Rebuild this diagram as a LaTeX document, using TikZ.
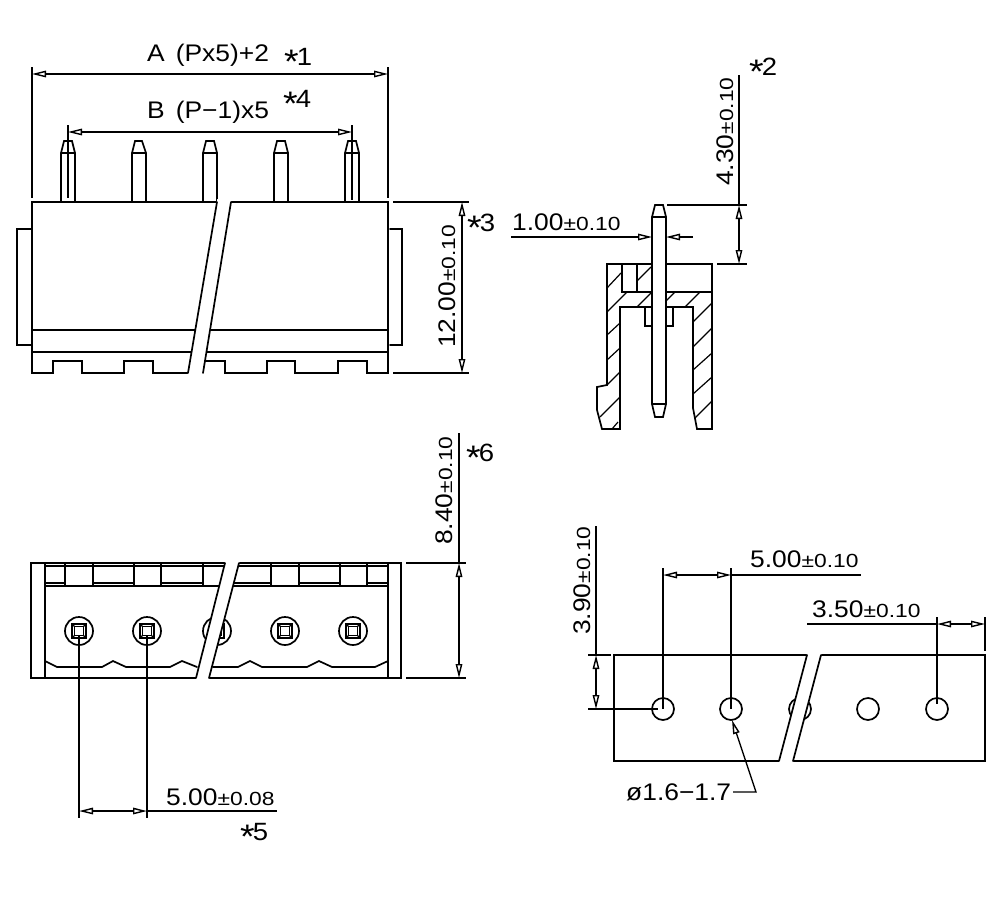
\documentclass[tikz,border=0pt]{standalone}
\usepackage{fontspec}
\setmainfont[FakeStretch=1.1]{Liberation Sans}
\newfontfamily\tolfont[FakeStretch=1.2]{Liberation Sans}
\usetikzlibrary{arrows.meta}

\newcommand{\tol}[1]{{\tolfont\fontsize{19}{19}\selectfont ±#1}}
\newcommand{\cadstar}{{\fontsize{34}{34}\selectfont\raisebox{-8pt}{*}}\hspace{-2pt}}

\tikzset{
  part/.style={line width=1.7pt, line cap=round, line join=miter},
  thin part/.style={line width=1.2pt},
  dimtip/.tip={Triangle[open,length=14pt,width=6.5pt]},
  dimline/.style={line width=1.4pt, -dimtip},
  dimboth/.style={line width=1.4pt, dimtip-dimtip},
  extline/.style={line width=1.4pt},
  dimtext/.style={font=\fontsize{24}{26}\selectfont, inner sep=0pt, anchor=base west},
  note/.style={font=\fontsize{25}{27}\selectfont, inner sep=0pt, anchor=base west},
  gap/.style={fill=white, draw=none}
}

\begin{document}
\begin{tikzpicture}[x=1pt,y=-1pt]
\useasboundingbox (0,0) rectangle (1000,900);

% front view
\draw[part] (61,202) -- (61,153) -- (64,141) -- (72,141) -- (75,153) -- (75,202);
\draw[part] (61,153) -- (75,153);
\draw[part] (132,202) -- (132,153) -- (135,141) -- (142,141) -- (146,153) -- (146,202);
\draw[part] (132,153) -- (146,153);
\draw[part] (203,202) -- (203,153) -- (206,141) -- (214,141) -- (217,153) -- (217,202);
\draw[part] (203,153) -- (217,153);
\draw[part] (274,202) -- (274,153) -- (277,141) -- (285,141) -- (288,153) -- (288,202);
\draw[part] (274,153) -- (288,153);
\draw[part] (345,202) -- (345,153) -- (348,141) -- (356,141) -- (359,153) -- (359,202);
\draw[part] (345,153) -- (359,153);

\draw[part] (188,373) -- (153,373) -- (153,361) -- (124,361) -- (124,373) -- (82,373) -- (82,361) -- (53,361) -- (53,373) -- (32,373) -- (32,202) -- (388,202) -- (388,373) -- (367,373) -- (367,361) -- (338,361) -- (338,373) -- (295,373) -- (295,361) -- (267,361) -- (267,373) -- (225,373) -- (225,361) -- (205,361);
\draw[part] (32,330) -- (388,330);
\draw[part] (32,352) -- (388,352);
\draw[part] (32,229) -- (17,229) -- (17,345) -- (32,345);
\draw[part] (390,229) -- (402,229) -- (402,345) -- (390,345);
\fill[gap] (217.3,199) -- (231.5,199) -- (202.5,376) -- (187.5,376) -- cycle;
\draw[part] (217,202) -- (188,373);
\draw[part] (231,202) -- (203,373);

\draw[extline] (32,67) -- (32,198);
\draw[extline] (388,67) -- (388,198);
\draw[dimboth] (32,74) -- (388,74);
\draw[extline] (68,125) -- (68,198);
\draw[extline] (352,125) -- (352,200);
\draw[dimboth] (68,132) -- (352,132);
\draw[extline] (393,202) -- (469,202);
\draw[extline] (393,373) -- (469,373);
\draw[dimboth] (462,202) -- (462,373);

\node[dimtext] (lblA) at (147,61) {A\hspace{11pt}(Px5)+2};
\node[note] (starA) at (284,65) {\cadstar 1};
\node[dimtext] (lblB) at (147,118) {B\hspace{11pt}(P−1)x5};
\node[note] (starB) at (283,107) {\cadstar 4};
\node[note] (starH) at (467,231) {\cadstar 3};
\node[dimtext, rotate=90] (lblH) at (455,348) {12.00\tol{0.10}};

% side section
\draw[part] (652,404) -- (652,217) -- (655,205) -- (663,205) -- (666,217) -- (666,404) -- (663,417) -- (655,417) -- (652,404);
\draw[part] (652,217) -- (666,217);
\draw[part] (652,404) -- (666,404);
\draw[part] (652,264) -- (607,264) -- (607,385) -- (597,387) -- (597,410) -- (602,429) -- (620,429) -- (620,307) -- (652,307);
\draw[part] (666,264) -- (712,264) -- (712,429) -- (697,429) -- (693,408) -- (693,307) -- (666,307);
\draw[part] (622,264) -- (622,292) -- (652,292);
\draw[part] (666,292) -- (712,292);
\draw[part] (637,264) -- (637,292);
\draw[part] (645,307) -- (645,326) -- (652,326);
\draw[part] (673,307) -- (673,326) -- (666,326);

\draw[thin part] (607,288) -- (621,273);
\draw[thin part] (607,312) -- (627,292);
\draw[thin part] (637,281) -- (651,267);
\draw[thin part] (637,307) -- (651,293);
\draw[thin part] (607,335) -- (620,323);
\draw[thin part] (607,360) -- (620,348);
\draw[thin part] (607,385) -- (620,372);
\draw[thin part] (600,417) -- (620,397);
\draw[thin part] (612,429) -- (618,422);
\draw[thin part] (666,301) -- (675,292);
\draw[thin part] (685,307) -- (700,292);
\draw[thin part] (693,322) -- (712,303);
\draw[thin part] (693,347) -- (712,328);
\draw[thin part] (693,370) -- (712,353);
\draw[thin part] (693,394) -- (712,377);
\draw[thin part] (695,418) -- (712,401);

\draw[dimline] (511,237) -- (652,237);
\draw[dimline] (693,237) -- (666,237);
\draw[extline] (667,205) -- (747,205);
\draw[extline] (717,264) -- (747,264);
\draw[extline] (739,75) -- (739,205);
\draw[dimboth] (739,205) -- (739,264);

\node[dimtext] (lblPin) at (512,230) {1.00\tol{0.10}};
\node[dimtext, rotate=90] (lblTop) at (733,186) {4.30\tol{0.10}};
\node[note] (starTop) at (749,75) {\cadstar 2};

% top view
\draw[part] (31,563) rectangle (401,678);
\draw[part] (45,563) -- (45,678);
\draw[part] (388,563) -- (388,678);
\draw[part] (45,566) -- (388,566);
\draw[thin part] (45,583) -- (388,583);
\draw[part] (45,586) -- (388,586);
\fill[white] (65,567) rectangle (93,585);
\fill[white] (134,567) rectangle (161,585);
\fill[white] (203,567) rectangle (225,585);
\fill[white] (271,567) rectangle (299,585);
\fill[white] (340,567) rectangle (367,585);
\draw[part] (65,563) -- (65,586);
\draw[part] (93,563) -- (93,586);
\draw[part] (134,563) -- (134,586);
\draw[part] (161,563) -- (161,586);
\draw[part] (203,563) -- (203,586);
\draw[part] (271,563) -- (271,586);
\draw[part] (299,563) -- (299,586);
\draw[part] (340,563) -- (340,586);
\draw[part] (367,563) -- (367,586);

\draw[part] (45,661) -- (57,667) -- (102,667) -- (113,661) -- (126,667) -- (170,667) -- (182,661) -- (197,667);
\draw[part] (213,667) -- (238,667) -- (250,661) -- (262,667) -- (307,667) -- (319,661) -- (332,667) -- (375,667) -- (388,661);

\draw[part] (79,631) circle (14);
\draw[thin part] (72,624) rectangle (86,638);
\draw[thin part] (74.5,626.5) rectangle (83.5,635.5);
\draw[thin part] (72,624) -- (74.5,626.5);
\draw[thin part] (86,624) -- (83.5,626.5);
\draw[thin part] (72,638) -- (74.5,635.5);
\draw[thin part] (86,638) -- (83.5,635.5);
\draw[part] (147,631) circle (14);
\draw[thin part] (140,624) rectangle (154,638);
\draw[thin part] (142.5,626.5) rectangle (151.5,635.5);
\draw[thin part] (140,624) -- (142.5,626.5);
\draw[thin part] (154,624) -- (151.5,626.5);
\draw[thin part] (140,638) -- (142.5,635.5);
\draw[thin part] (154,638) -- (151.5,635.5);
\draw[part] (217,631) circle (14);
\draw[thin part] (210,624) rectangle (224,638);
\draw[thin part] (212.5,626.5) rectangle (221.5,635.5);
\draw[part] (285,631) circle (14);
\draw[thin part] (278,624) rectangle (292,638);
\draw[thin part] (280.5,626.5) rectangle (289.5,635.5);
\draw[thin part] (278,624) -- (280.5,626.5);
\draw[thin part] (292,624) -- (289.5,626.5);
\draw[thin part] (278,638) -- (280.5,635.5);
\draw[thin part] (292,638) -- (289.5,635.5);
\draw[part] (353,631) circle (14);
\draw[thin part] (346,624) rectangle (360,638);
\draw[thin part] (348.5,626.5) rectangle (357.5,635.5);
\draw[thin part] (346,624) -- (348.5,626.5);
\draw[thin part] (360,624) -- (357.5,626.5);
\draw[thin part] (346,638) -- (348.5,635.5);
\draw[thin part] (360,638) -- (357.5,635.5);

\fill[gap] (225.5,560) -- (240,560) -- (208.5,681) -- (195.5,681) -- cycle;
\draw[part] (225,563) -- (196,678);
\draw[part] (239,563) -- (209,678);

\draw[extline] (79,636) -- (79,818);
\draw[extline] (147,636) -- (147,818);
\draw[dimboth] (79,811) -- (147,811);
\draw[extline] (147,811) -- (277,811);
\draw[extline] (406,563) -- (466,563);
\draw[extline] (406,678) -- (466,678);
\draw[extline] (459,433) -- (459,563);
\draw[dimboth] (459,563) -- (459,678);

\node[dimtext] (lblPitch) at (166,805) {5.00\tol{0.08}};
\node[note] (starPitch) at (240,840) {\cadstar 5};
\node[dimtext, rotate=90] (lblDepth) at (452,545) {8.40\tol{0.10}};
\node[note] (starDepth) at (466,461) {\cadstar 6};

% footprint
\draw[part] (614,655) rectangle (985,761);
\draw[part] (663,709) circle (11);
\draw[part] (731,709) circle (11);
\draw[part] (800,709) circle (11);
\draw[part] (868,709) circle (11);
\draw[part] (937,709) circle (11);
\fill[gap] (807.5,652) -- (822,652) -- (792.5,764) -- (778.5,764) -- cycle;
\draw[part] (807,655) -- (779,761);
\draw[part] (821,655) -- (793,761);

\draw[extline] (663,568) -- (663,709);
\draw[extline] (731,568) -- (731,709);
\draw[dimboth] (663,575) -- (731,575);
\draw[extline] (731,575) -- (861,575);
\draw[extline] (937,617) -- (937,704);
\draw[extline] (985,617) -- (985,651);
\draw[dimboth] (937,624) -- (985,624);
\draw[extline] (807,624) -- (937,624);
\draw[extline] (596,526) -- (596,655);
\draw[extline] (588,655) -- (611,655);
\draw[extline] (588,709) -- (658,709);
\draw[dimboth] (596,655) -- (596,709);
\draw[dimline] (733,792) -- (756,792) -- (732,720);

\node[dimtext] (lblHole) at (750,567) {5.00\tol{0.10}};
\node[dimtext] (lblEdge) at (812,617) {3.50\tol{0.10}};
\node[dimtext, rotate=90] (lblRow) at (590,635) {3.90\tol{0.10}};
\node[dimtext] (lblDia) at (626,800) {ø1.6−1.7};

\end{tikzpicture}
\end{document}
